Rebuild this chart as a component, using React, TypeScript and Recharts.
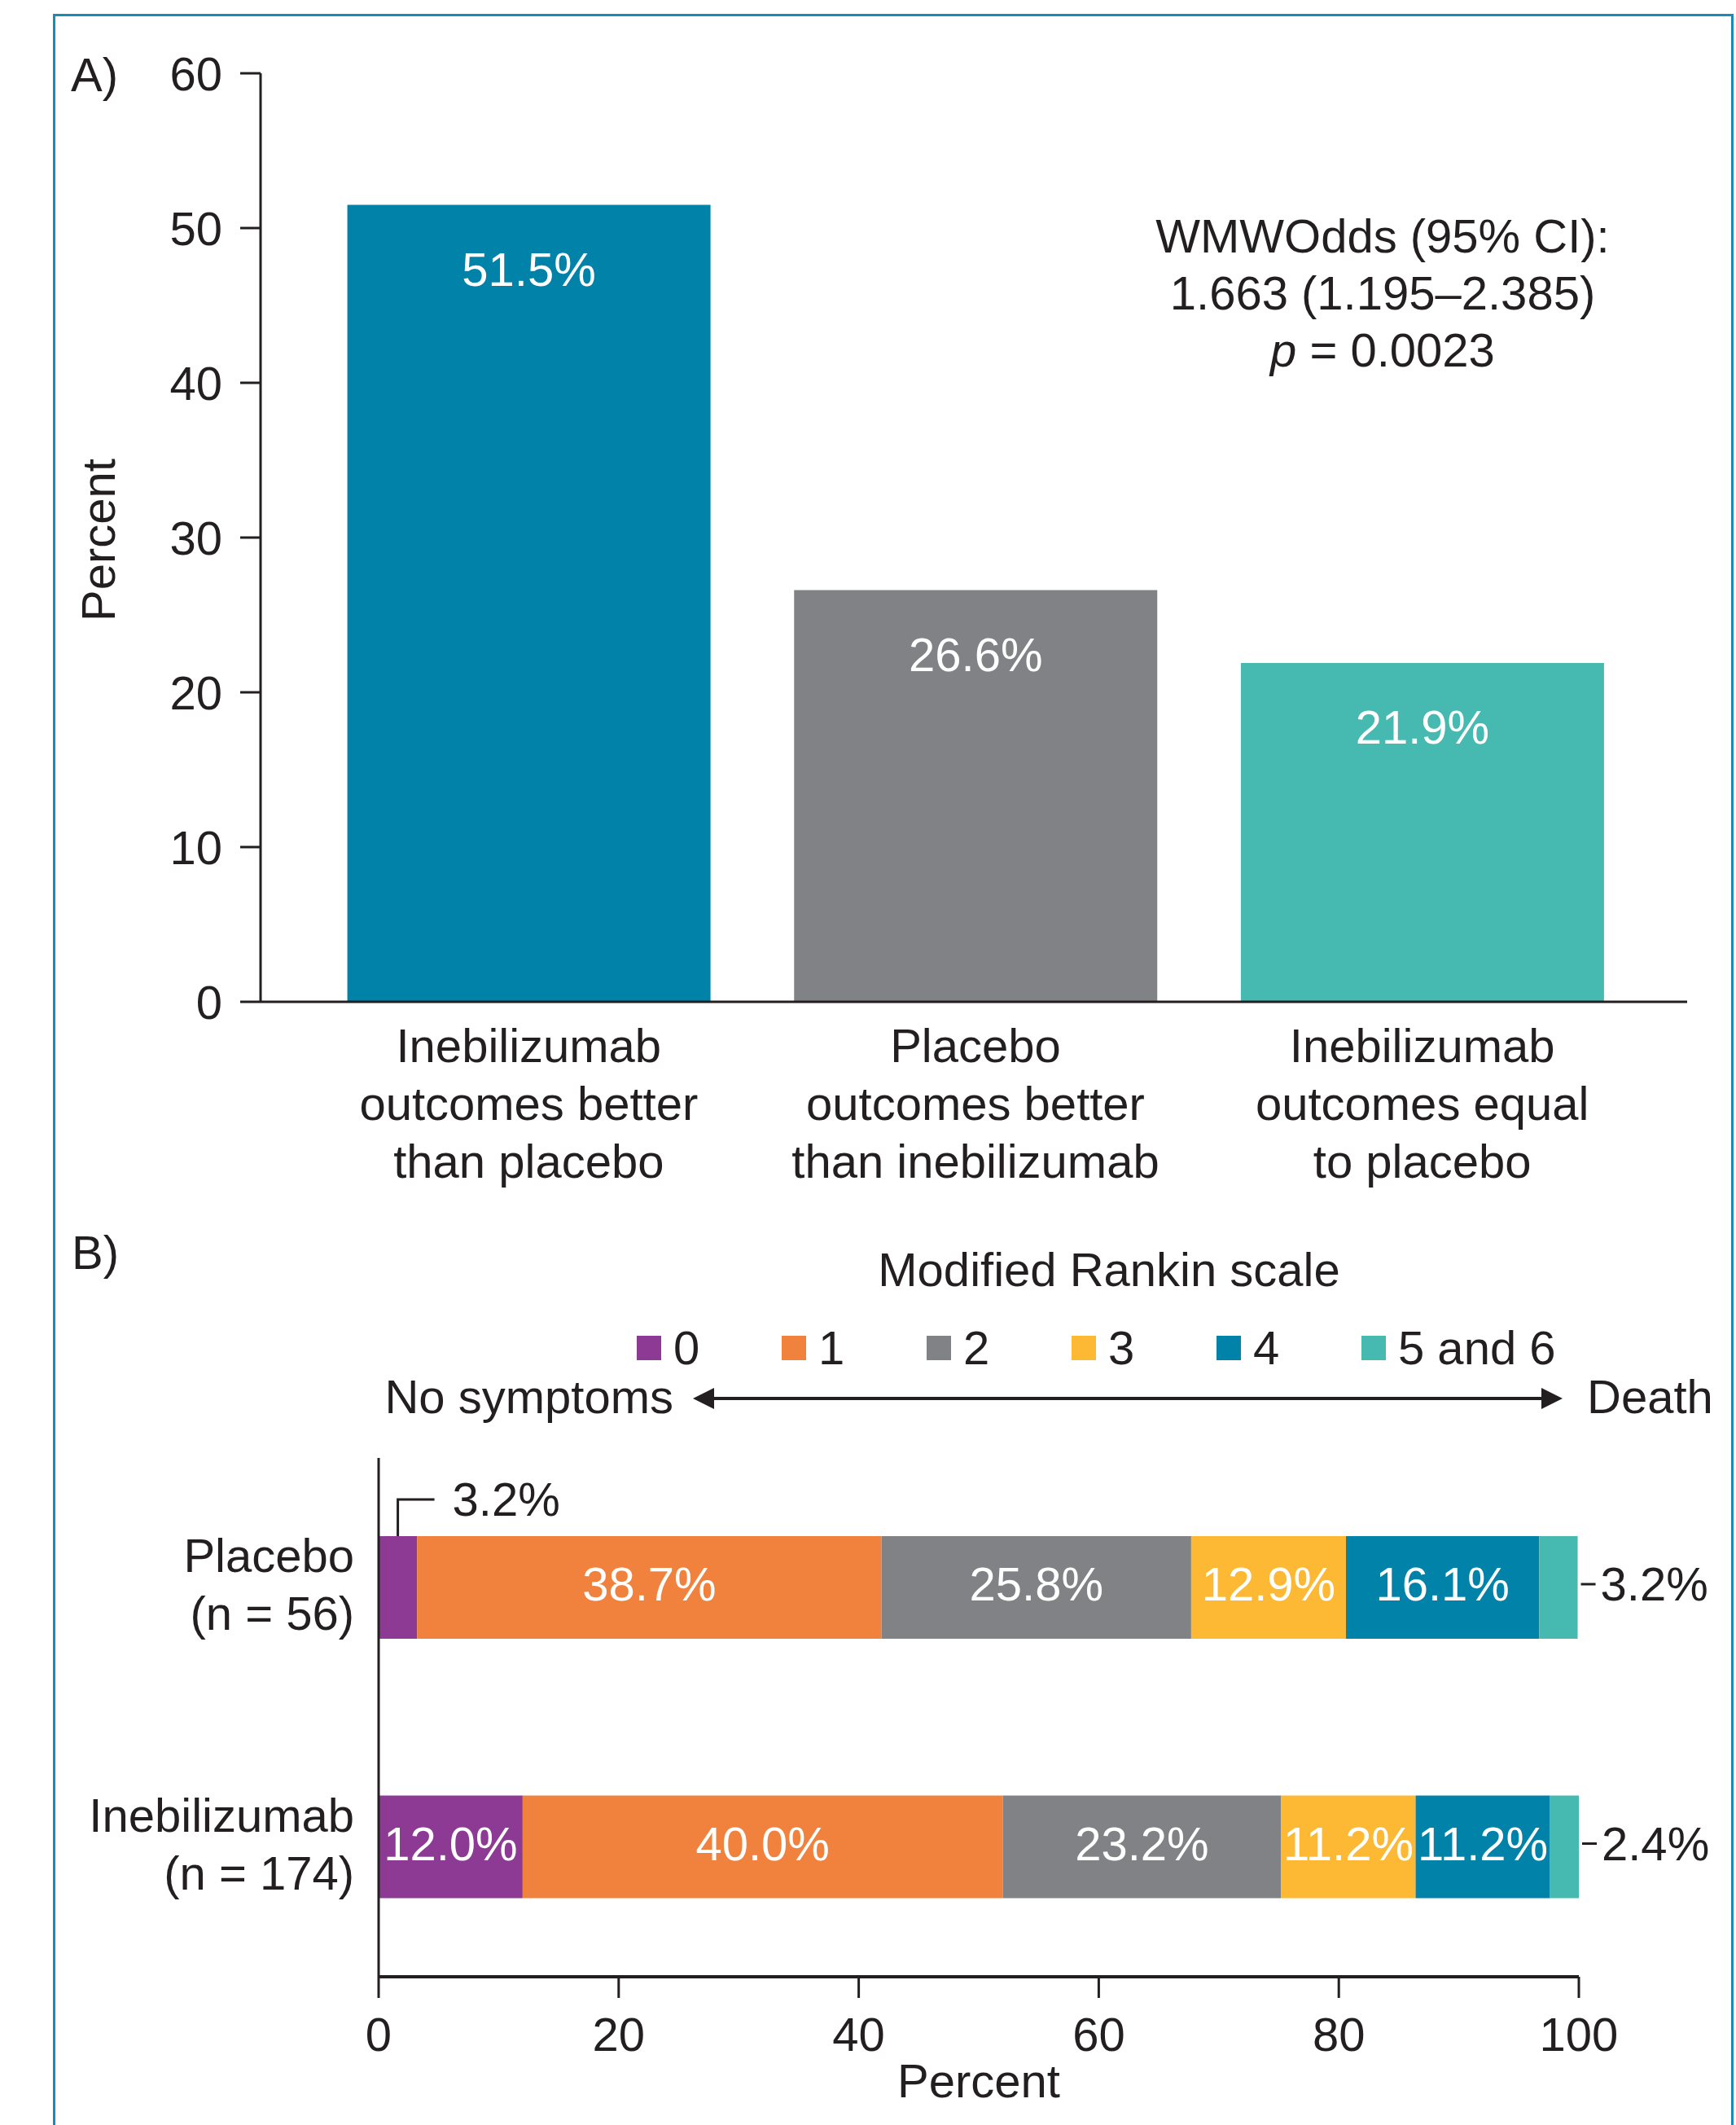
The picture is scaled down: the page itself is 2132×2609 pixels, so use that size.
import React from 'react';
import { BarChart, Bar, XAxis, YAxis, Cell, LabelList, Legend, Label } from 'recharts';

const FONT = '"Liberation Sans", Arial, Helvetica, sans-serif';
const INK = '#231f20';
const FS = 58;

// Panel A: WMW odds breakdown
const outcomeKeys = ['better', 'worse', 'equal'];
const outcomeLabels = [
  ['Inebilizumab', 'outcomes better', 'than placebo'],
  ['Placebo', 'outcomes better', 'than inebilizumab'],
  ['Inebilizumab', 'outcomes equal', 'to placebo'],
];
const outcomeValues = [51.5, 26.6, 21.9];
const outcomeColors = ['#0082a9', '#808285', '#46b9b0'];
const percentTicksA = [0, 10, 20, 30, 40, 50, 60];

// Panel B: modified Rankin scale distribution
const groups = ['Placebo', 'Inebilizumab'];
const groupN = ['(n = 56)', '(n = 174)'];
const mrs0 = [3.2, 12.0];
const mrs1 = [38.7, 40.0];
const mrs2 = [25.8, 23.2];
const mrs3 = [12.9, 11.2];
const mrs4 = [16.1, 11.2];
const mrs56 = [3.2, 2.4];
const mrsKeys = ['m0', 'm1', 'm2', 'm3', 'm4', 'm56'];
const mrsNames = ['0', '1', '2', '3', '4', '5 and 6'];
const mrsColors = ['#8c3a93', '#f1823d', '#808285', '#fdb933', '#0082a9', '#46b9b0'];
const percentTicksB = [0, 20, 40, 60, 80, 100];

const dataA = outcomeKeys.map((key, i) => ({ key, value: outcomeValues[i] }));
const dataB = groups.map((group, i) => ({
  group,
  m0: mrs0[i],
  m1: mrs1[i],
  m2: mrs2[i],
  m3: mrs3[i],
  m4: mrs4[i],
  m56: mrs56[i],
}));

const CHART_B_TOP = 1500;

function OutcomeTick({ x, y, payload }: any) {
  const lines = outcomeLabels[outcomeKeys.indexOf(payload.value)] || [];
  return (
    <text textAnchor="middle" fill={INK} fontSize={FS}>
      {lines.map((l, k) => (
        <tspan key={k} x={x} y={y + 74 + k * 71}>{l}</tspan>
      ))}
    </text>
  );
}

function BarValueLabel(props: any) {
  const x = Number(props.x), y = Number(props.y), w = Number(props.width);
  return (
    <text x={x + w / 2} y={y + 99} textAnchor="middle" fill="#fff" fontSize={FS}>
      {`${Number(props.value).toFixed(1)}%`}
    </text>
  );
}

function GroupTick({ x, y, payload }: any) {
  const i = groups.indexOf(payload.value);
  return (
    <text textAnchor="end" fill={INK} fontSize={FS}>
      <tspan x={x} y={y - 19}>{payload.value}</tspan>
      <tspan x={x} y={y + 52}>{groupN[i]}</tspan>
    </text>
  );
}

const makeSegmentLabel = (rank: number) => (props: any) => {
  const x = Number(props.x), y = Number(props.y);
  const w = Number(props.width), h = Number(props.height);
  const v = Number(props.value);
  const text = `${v.toFixed(1)}%`;
  const cy = y + h / 2;
  if (rank === mrsKeys.length - 1) {
    const ex = x + w;
    return (
      <g>
        <line x1={ex + 4} x2={ex + 22} y1={cy - 4} y2={cy - 4} stroke={INK} strokeWidth={3} />
        <text x={ex + 28} y={cy + 16} fill={INK} fontSize={FS}>{text}</text>
      </g>
    );
  }
  if (v < 5) {
    // small slice: leader line up and to the right
    const lx = x + w / 2;
    return (
      <g>
        <path d={`M${lx},${y} V${y - 45} H${lx + 45}`} fill="none" stroke={INK} strokeWidth={3} />
        <text x={lx + 67} y={y - 25} fill={INK} fontSize={FS}>{text}</text>
      </g>
    );
  }
  return (
    <text x={x + w / 2} y={cy + 16} textAnchor="middle" fill="#fff" fontSize={FS}>{text}</text>
  );
};

function RankinLegend({ payload }: any) {
  const items = payload || [];
  return (
    <div style={{ display: 'flex', alignItems: 'center', fontFamily: FONT }}>
      {items.map((e: any, i: number) => (
        <div
          key={i}
          style={{ display: 'flex', alignItems: 'center', width: i < items.length - 1 ? 178 : 'auto' }}
        >
          <span style={{ width: 30, height: 30, background: e.color, display: 'inline-block', marginRight: 15 }} />
          <span style={{ fontSize: FS, color: INK, lineHeight: '30px', whiteSpace: 'nowrap' }}>{e.value}</span>
        </div>
      ))}
    </div>
  );
}

export default function App() {
  return (
    <div
      style={{
        position: 'absolute',
        left: 0,
        top: 0,
        width: 2132,
        height: 2609,
        overflow: 'hidden',
        background: '#fff',
        fontFamily: FONT,
      }}
    >
      <div
        style={{
          position: 'absolute',
          left: 65,
          top: 17,
          width: 2064,
          height: 2620,
          boxSizing: 'border-box',
          borderTop: '3px solid #1a8ab6',
          borderLeft: '3px solid #1a8ab6',
          borderRight: '3px solid #1a8ab6',
        }}
      />

      {/* Panel A */}
      <div style={{ position: 'absolute', left: 0, top: 0 }}>
        <BarChart
          width={2132}
          height={1500}
          data={dataA}
          margin={{ top: 90, right: 60, left: 60, bottom: 70 }}
          barCategoryGap="9.4%"
        >
          <XAxis
            dataKey="key"
            height={200}
            padding={{ left: 55, right: 51 }}
            axisLine={{ stroke: INK, strokeWidth: 3 }}
            tickLine={false}
            tickSize={0}
            tickMargin={0}
            interval={0}
            tick={<OutcomeTick />}
          />
          <YAxis
            width={260}
            domain={[0, 60]}
            ticks={percentTicksA}
            interval={0}
            axisLine={{ stroke: INK, strokeWidth: 3 }}
            tickLine={{ stroke: INK, strokeWidth: 3 }}
            tickSize={25}
            tickMargin={22}
            tick={{ fill: INK, fontSize: FS }}
          >
            <Label
              content={({ viewBox }: any) => {
                const cx = viewBox.x + 81;
                const cy = viewBox.y + viewBox.height / 2 + 3;
                return (
                  <text
                    x={cx}
                    y={cy}
                    textAnchor="middle"
                    fill={INK}
                    fontSize={FS}
                    transform={`rotate(-90, ${cx}, ${cy})`}
                  >
                    Percent
                  </text>
                );
              }}
            />
          </YAxis>
          <Bar dataKey="value" isAnimationActive={false}>
            {dataA.map((d, i) => (
              <Cell key={d.key} fill={outcomeColors[i]} />
            ))}
            <LabelList dataKey="value" content={BarValueLabel} />
          </Bar>
        </BarChart>
      </div>

      {/* Panel B */}
      <div style={{ position: 'absolute', left: 0, top: CHART_B_TOP }}>
        <BarChart
          width={2132}
          height={1109}
          data={dataB}
          layout="vertical"
          margin={{ top: 290, right: 193, left: 65, bottom: 22 }}
        >
          <XAxis
            type="number"
            domain={[0, 100]}
            ticks={percentTicksB}
            interval={0}
            height={160}
            axisLine={{ stroke: INK, strokeWidth: 4 }}
            tickLine={{ stroke: INK, strokeWidth: 3 }}
            tickSize={26}
            tickMargin={24}
            tick={{ fill: INK, fontSize: FS }}
          >
            <Label value="Percent" position="insideBottom" offset={12} fill={INK} fontSize={FS} />
          </XAxis>
          <YAxis
            type="category"
            dataKey="group"
            width={400}
            axisLine={{ stroke: INK, strokeWidth: 3 }}
            tickLine={false}
            tickSize={0}
            tickMargin={30}
            interval={0}
            tick={<GroupTick />}
          />
          <Legend
            layout="horizontal"
            verticalAlign="middle"
            align="center"
            wrapperStyle={{ position: 'absolute', top: 1640 - CHART_B_TOP, left: 782, width: 'auto', height: 'auto' }}
            content={<RankinLegend />}
          />
          {mrsKeys.map((k, i) => (
            <Bar
              key={k}
              dataKey={k}
              name={mrsNames[i]}
              stackId="mrs"
              fill={mrsColors[i]}
              barSize={126}
              isAnimationActive={false}
            >
              <LabelList dataKey={k} content={makeSegmentLabel(i)} />
            </Bar>
          ))}
        </BarChart>
      </div>

      {/* headings and annotations */}
      <svg
        width={2132}
        height={2609}
        style={{ position: 'absolute', left: 0, top: 0, pointerEvents: 'none' }}
      >
        <g fill={INK} fontSize={FS} fontFamily={FONT}>
          <text x={87} y={112}>A)</text>
          <text x={88} y={1558}>B)</text>
          <text textAnchor="middle">
            <tspan x={1698} y={310}>WMWOdds (95% CI):</tspan>
            <tspan x={1698} y={380}>1.663 (1.195–2.385)</tspan>
            <tspan x={1698} y={450}>
              <tspan fontStyle="italic">p</tspan> = 0.0023
            </tspan>
          </text>
          <text x={1362} y={1579} textAnchor="middle">Modified Rankin scale</text>
          <text x={827} y={1735} textAnchor="end">No symptoms</text>
          <text x={1949} y={1735}>Death</text>
        </g>
        <line x1={870} x2={1900} y1={1717} y2={1717} stroke={INK} strokeWidth={4} />
        <polygon points="851,1717 877,1704 877,1730" fill={INK} />
        <polygon points="1919,1717 1893,1704 1893,1730" fill={INK} />
      </svg>
    </div>
  );
}
